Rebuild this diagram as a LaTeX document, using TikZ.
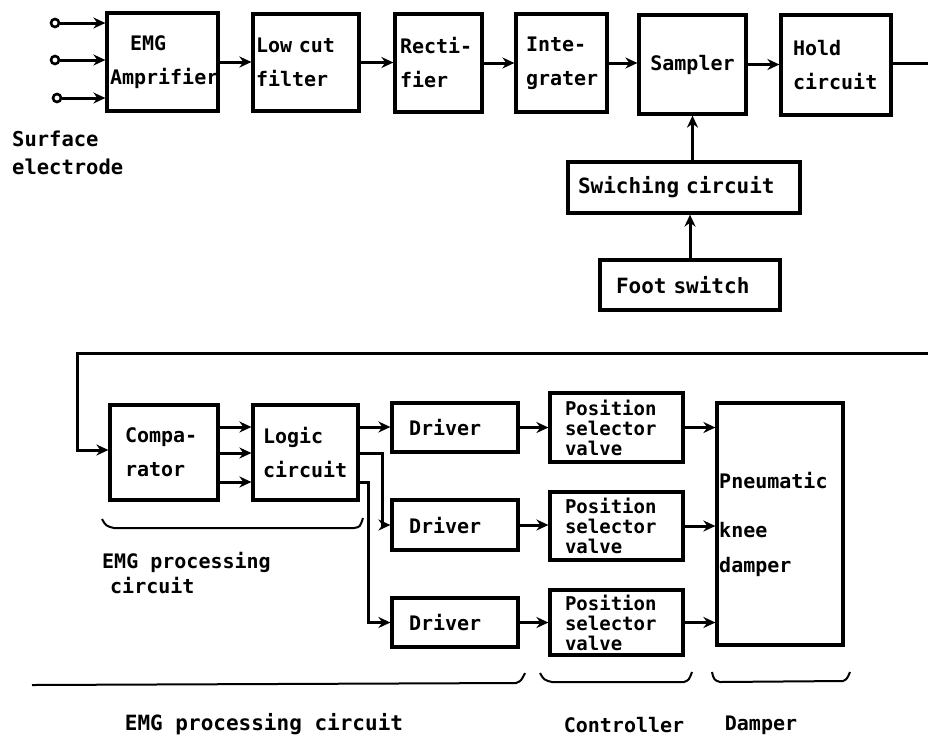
\documentclass[tikz,border=0pt]{standalone}
\usepackage{fontspec}
\newfontfamily\dgmono{DejaVu Sans Mono}
\usetikzlibrary{arrows.meta}
\newcommand\dgtf{\dgmono\bfseries\fontsize{20}{34}\selectfont}
\newcommand\dgwf{\dgmono\bfseries\fontsize{21}{34}\selectfont}
\newcommand\dgps{\dgmono\bfseries\fontsize{19}{20}\selectfont}
\tikzset{
  blk/.style={draw, line width=3.2pt, inner xsep=3pt, inner ysep=0pt, align=left, font=\dgtf},
  arr/.style={line width=3pt, -{Stealth[length=12pt,width=11pt]}},
  ln/.style={line width=3pt},
  brc/.style={line width=2pt},
  circ/.style={circle, draw, line width=2.6pt, minimum size=8pt, inner sep=0pt},
  lab/.style={font=\dgtf, inner sep=0pt}
}
\begin{document}
\begin{tikzpicture}[x=1pt,y=-1pt]
\useasboundingbox (0,0) rectangle (928,740);
% top row
\node[blk, text width=105pt, minimum height=98pt] (emg) at (162.5,62) {\hspace*{1em}EMG\\Amprifier};
\node[blk, text width=100pt, minimum height=97pt] (lcf) at (306,62.5) {Low cut\\filter};
\node[blk, inner xsep=5pt, text width=77pt, minimum height=98pt] (rect) at (438.5,63) {Recti-\\fier};
\node[blk, inner xsep=10pt, text width=71pt, minimum height=98pt] (integ) at (561.5,63) {Inte-\\grater};
\node[blk, text width=101pt, minimum height=99pt, align=center] (samp) at (692.5,64.5) {Sampler};
\node[blk, inner xsep=12pt, text width=86pt, minimum height=100pt] (hold) at (836,65) {Hold\\circuit};
\node[blk, font=\dgwf, inner xsep=10pt, text width=212pt, minimum height=51pt] (sw) at (684,187.5) {Swiching circuit};
\node[blk, font=\dgwf, inner xsep=16pt, text width=148pt, minimum height=50pt] (fs) at (690,285) {Foot switch};
% inputs
\node[circ] (in1) at (55,23) {};
\node[circ] (in2) at (55,60) {};
\node[circ] (in3) at (57,98) {};
\draw[arr] (in1) -- (in1 -| emg.west);
\draw[arr] (in2) -- (in2 -| emg.west);
\draw[arr] (in3) -- (in3 -| emg.west);
\node[lab, anchor=north west, align=left, font=\dgmono\bfseries\fontsize{20.5}{28}\selectfont] (surf) at (12,131) {Surface\\electrode};
% top connectors
\draw[arr] (emg.east) -- (emg.east -| lcf.west);
\draw[arr] (lcf.east) -- (lcf.east -| rect.west);
\draw[arr] (rect.east) -- (rect.east -| integ.west);
\draw[arr] (integ.east) -- (integ.east -| samp.west);
\draw[arr] (samp.east) -- (samp.east -| hold.west);
\coordinate (tr) at (928,63);
\draw[ln] (hold.east |- tr) -- (tr);
\draw[arr] (samp.south |- sw.north) -- (samp.south);
\draw[arr] (fs.north) -- (fs.north |- sw.south);
% bottom blocks
\node[blk, inner xsep=15pt, text width=78pt, minimum height=95pt] (comp) at (164,452.5) {Compa-\\rator};
\node[blk, inner xsep=10pt, text width=85pt, minimum height=95pt] (logic) at (305.5,452.5) {Logic\\circuit};
\node[blk, inner xsep=17pt, text width=92pt, minimum height=49pt] (drv1) at (455,427.5) {Driver};
\node[blk, inner xsep=17pt, text width=92pt, minimum height=50pt] (drv2) at (455,525) {Driver};
\node[blk, inner xsep=17pt, text width=92pt, minimum height=49pt] (drv3) at (455,622.5) {Driver};
\node[blk, font=\dgps, inner xsep=15pt, text width=103pt, minimum height=69pt] (psv1) at (616.5,427.5) {Position\\selector\\valve};
\node[blk, font=\dgps, inner xsep=15pt, text width=103pt, minimum height=68pt] (psv2) at (616.5,526) {Position\\selector\\valve};
\node[blk, font=\dgps, inner xsep=15pt, text width=103pt, minimum height=65pt] (psv3) at (616.5,622.5) {Position\\selector\\valve};
\node[draw, line width=3.2pt, minimum width=126pt, minimum height=242pt, inner sep=0pt] (dmp) at (780,524) {};
\node[lab, anchor=west] (dt1) at (719,480) {Pneumatic};
\node[lab, anchor=west] (dt2) at (719,530) {knee};
\node[lab, anchor=west] (dt3) at (719,567) {damper};
% feedback
\coordinate (fbr) at (928,353);
\coordinate (fbl) at (77,353);
\coordinate (fbin) at (77,450);
\draw[arr] (fbr) -- (fbl) -- (fbin) -- (fbin -| comp.west);
% comparator -> logic
\coordinate (r1) at (0,427);
\coordinate (r2) at (0,453);
\coordinate (r3) at (0,482);
\draw[arr] (comp.east |- r1) -- (logic.west |- r1);
\draw[arr] (comp.east |- r2) -- (logic.west |- r2);
\draw[arr] (comp.east |- r3) -- (logic.west |- r3);
% logic -> drivers
\draw[arr] (logic.east |- r1) -- (drv1.west |- r1);
\coordinate (k2) at (382,453);
\coordinate (k3) at (368,482);
\draw[arr] (logic.east |- r2) -- (k2) |- (drv2.west);
\draw[arr] (logic.east |- r3) -- (k3) |- (drv3.west);
% drivers -> valves -> damper
\draw[arr] (drv1.east) -- (drv1.east -| psv1.west);
\draw[arr] (drv2.east) -- (drv2.east -| psv2.west);
\draw[arr] (drv3.east) -- (drv3.east -| psv3.west);
\draw[arr] (psv1.east) -- (psv1.east -| dmp.west);
\draw[arr] (psv2.east) -- (psv2.east -| dmp.west);
\draw[arr] (psv3.east) -- (psv3.east -| dmp.west);
% braces
\draw[brc] (102,519) .. controls (106,526) .. (114,528) -- (354,528) .. controls (360,527) .. (363,518);
\draw[brc] (32,685) -- (516,683) .. controls (521,681) .. (525,673);
\draw[brc] (540,673) .. controls (544,680) .. (552,682) -- (684,682) .. controls (689,680) .. (692,672);
\draw[brc] (712,672) .. controls (714,680) .. (720,682) -- (843,681) .. controls (847,679) .. (850,672);
% labels
\node[lab, anchor=north west, align=left, font=\dgmono\bfseries\fontsize{20}{25}\selectfont] (lab1) at (102,552) {EMG processing\\\hspace*{0.4em}circuit};
\node[lab, font=\dgwf] (lab2) at (264,724) {EMG processing circuit};
\node[lab] (lab3) at (624,725) {Controller};
\node[lab] (lab4) at (761,725) {Damper};
\end{tikzpicture}
\end{document}
